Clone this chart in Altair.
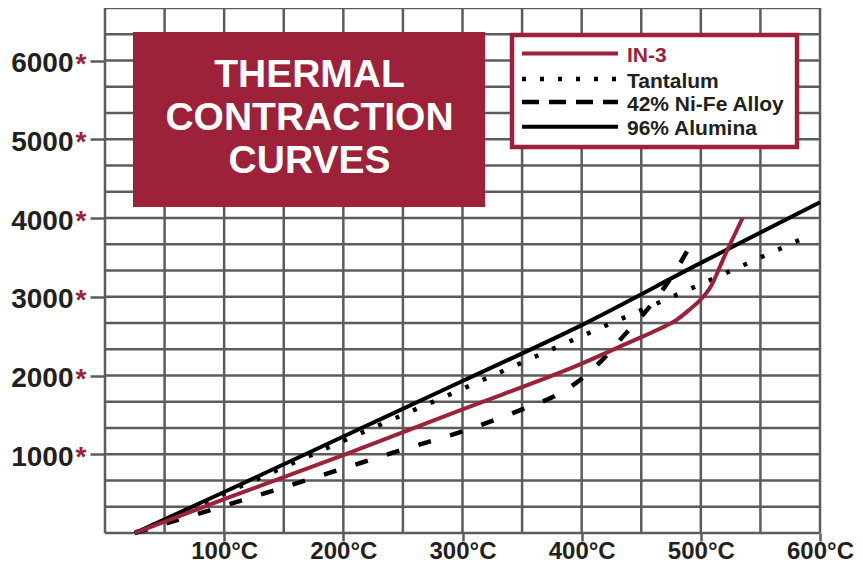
import altair as alt
import pandas as pd

# ---------------- data ----------------
in3_temp = [25, 100, 200, 300, 400, 440, 465, 480, 490, 499, 508, 520, 535]
in3_val = [0, 430, 990, 1570, 2150, 2420, 2590, 2710, 2830, 2950, 3120, 3520, 4000]

tantalum_temp = [25, 100, 200, 300, 400, 500, 590]
tantalum_val = [0, 500, 1170, 1830, 2500, 3160, 3770]

nife_temp = [25, 100, 150, 200, 250, 300, 350, 380, 400, 410, 420, 435, 453, 469, 480, 490]
nife_val = [0, 345, 580, 820, 1060, 1290, 1570, 1760, 1960, 2090, 2240, 2500, 2800, 3110, 3360, 3620]

alumina_temp = [25, 100, 200, 300, 400, 500, 600]
alumina_val = [0, 520, 1225, 1930, 2640, 3430, 4200]

series_names = ["IN-3", "Tantalum", "42% Ni-Fe Alloy", "96% Alumina"]
x_tick_values = [100, 200, 300, 400, 500, 600]
y_tick_values = [1000, 2000, 3000, 4000, 5000, 6000]
x_grid = [0, 50, 100, 150, 200, 250, 300, 350, 400, 450, 500, 550, 600]
y_grid = [i * 1000 / 3 for i in range(21)]
title_lines = ["THERMAL", "CONTRACTION", "CURVES"]

# ---------------- styles ----------------
CRIMSON = "#9c2139"
GRID = "#5c5c5c"
TEXT = "#231f20"
FONT = "Liberation Sans"

x_scale = alt.Scale(domain=[0, 600], nice=False, zero=False)
y_scale = alt.Scale(domain=[0, 20000 / 3], nice=False, zero=False)

x_axis = alt.Axis(values=x_tick_values, labelExpr="datum.value + '°C'", grid=False,
                  domain=False, ticks=True, tickSize=8, tickWidth=2.5, tickColor=GRID,
                  labelFont=FONT, labelFontSize=24, labelFontWeight="bold",
                  labelColor=TEXT, labelPadding=-2, labelOverlap=False, labelFlush=False,
                  title=None)
y_axis = alt.Axis(values=y_tick_values, format="d", grid=False, domain=False,
                  ticks=True, tickSize=15, tickWidth=2.5, tickColor=GRID,
                  labelFont=FONT, labelFontSize=28, labelFontWeight="bold",
                  labelColor=TEXT, labelPadding=17, labelOffset=3, labelOverlap=False,
                  labelFlush=False, title=None)

one = pd.DataFrame({"a": [0]})

vgrid = alt.Chart(pd.DataFrame({"t": x_grid})).mark_rule(color=GRID, strokeWidth=2.5).encode(
    x=alt.X("t:Q", scale=x_scale, axis=x_axis, title=None))
hgrid = alt.Chart(pd.DataFrame({"v": y_grid})).mark_rule(color=GRID, strokeWidth=2.5).encode(
    y=alt.Y("v:Q", scale=y_scale, axis=y_axis, title=None))

asterisks = alt.Chart(pd.DataFrame({"v": y_tick_values})).mark_text(
    text="*", font=FONT, fontSize=28, fontWeight="bold", color=CRIMSON,
    align="center", baseline="middle", dy=4).encode(
    y=alt.Y("v:Q", scale=y_scale, axis=y_axis, title=None), x=alt.value(-24))

title_rect = alt.Chart(one).mark_rect(color=CRIMSON).encode(
    x=alt.value(28), x2=alt.value(380), y=alt.value(24), y2=alt.value(199))
title_text = alt.Chart(one).mark_text(
    font=FONT, fontSize=39, fontWeight="bold", color="white", align="center",
    baseline="middle", lineHeight=43).encode(
    x=alt.value(204.5), y=alt.value(67), text=alt.value(title_lines))

legend_rect = alt.Chart(one).mark_rect(fill="white", stroke=CRIMSON, strokeWidth=4.5).encode(
    x=alt.value(407), x2=alt.value(692), y=alt.value(27), y2=alt.value(139))

legend_rows = [45.5, 71, 94, 118.7]
legend_styles = [
    dict(color=CRIMSON, strokeWidth=4),
    dict(color="black", strokeWidth=4.5, strokeDash=[4, 14]),
    dict(color="black", strokeWidth=4.5, strokeDash=[17, 10]),
    dict(color="black", strokeWidth=4),
]
legend_layers = []
for name, row, st in zip(series_names, legend_rows, legend_styles):
    legend_layers.append(alt.Chart(one).mark_rule(**st).encode(
        x=alt.value(417), x2=alt.value(513), y=alt.value(row)))
    legend_layers.append(alt.Chart(one).mark_text(
        text=name, font=FONT, fontSize=21, fontWeight="bold",
        color=CRIMSON if name == "IN-3" else TEXT, align="left", baseline="middle").encode(
        x=alt.value(522), y=alt.value(row + 2.5)))

series = [
    (alumina_temp, alumina_val, dict(color="black", strokeWidth=4)),
    (tantalum_temp, tantalum_val, dict(color="black", strokeWidth=4.5, strokeDash=[4, 15])),
    (nife_temp, nife_val, dict(color="black", strokeWidth=4.5, strokeDash=[13, 20])),
    (in3_temp, in3_val, dict(color=CRIMSON, strokeWidth=4)),
]
line_layers = []
for temps, vals, st in series:
    df = pd.DataFrame({"T": temps, "V": vals})
    line_layers.append(alt.Chart(df).mark_line(interpolate="monotone", **st).encode(
        x=alt.X("T:Q", scale=x_scale, axis=x_axis, title=None),
        y=alt.Y("V:Q", scale=y_scale, axis=y_axis, title=None)))

chart = alt.layer(vgrid, hgrid, asterisks, title_rect, title_text, legend_rect,
                  *legend_layers, *line_layers).properties(
    width=715, height=525,
    autosize=alt.AutoSizeParams(type="none"),
    padding={"left": 97, "top": 0, "right": 35, "bottom": 30},
).configure_view(stroke=None)

chart.save("out.html", embed_options={"renderer": "svg", "actions": False})
